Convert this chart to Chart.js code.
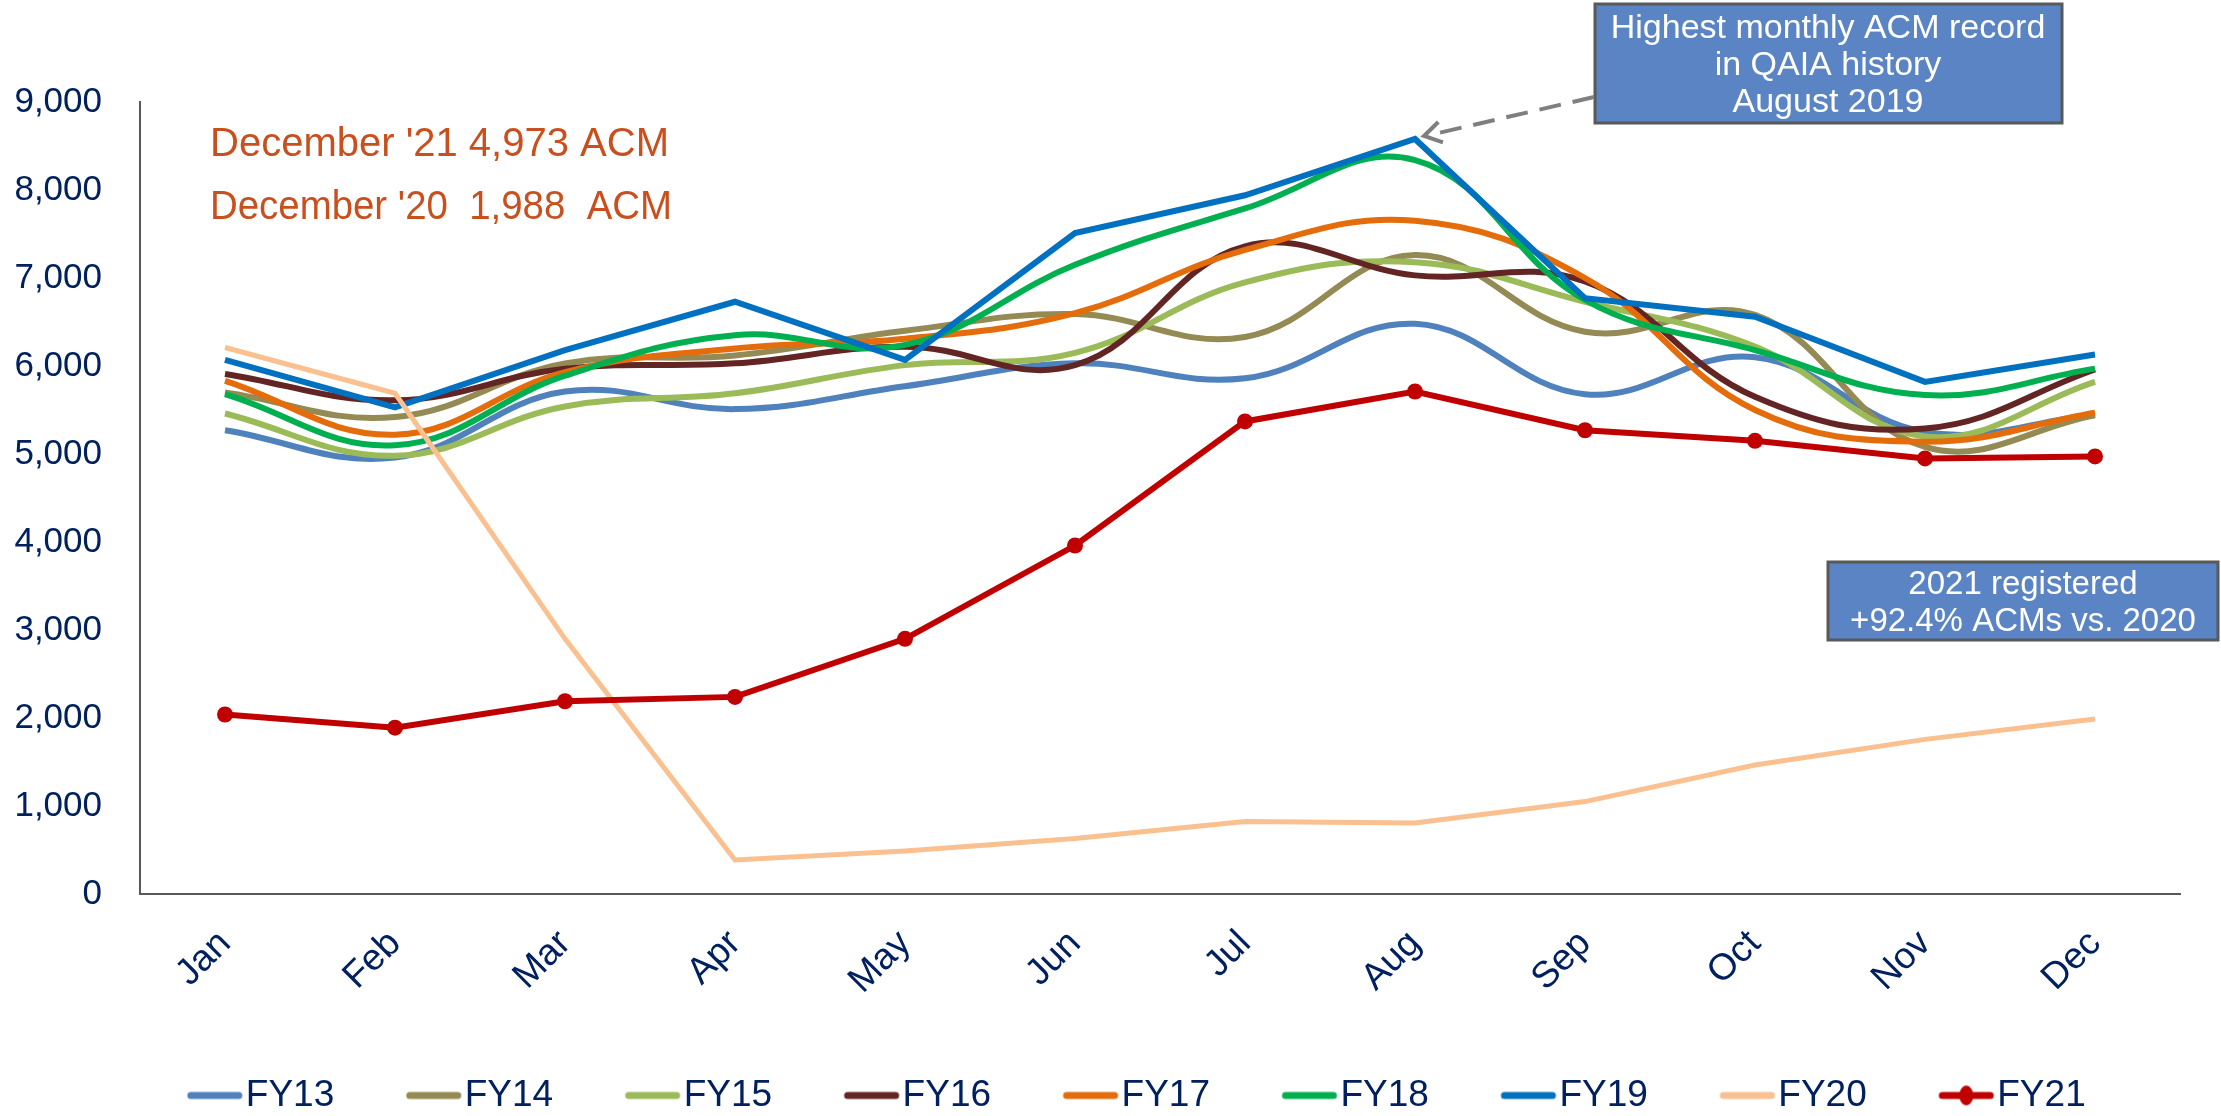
<!DOCTYPE html>
<html>
<head>
<meta charset="utf-8">
<script src="https://cdn.jsdelivr.net/npm/chart.js@4.4.1/dist/chart.umd.min.js"></script>
<style>
  html, body { margin: 0; padding: 0; background: #ffffff; }
  #wrap { width: 2221px; height: 1116px; }
</style>
</head>
<body>
<div id="wrap"><canvas id="acm" width="2221" height="1116"></canvas></div>
<script>
// monthly ACM counts
const months = ["Jan", "Feb", "Mar", "Apr", "May", "Jun", "Jul", "Aug", "Sep", "Oct", "Nov", "Dec"];
const fy13 = [5270, 4960, 5710, 5510, 5770, 6030, 5860, 6480, 5680, 6100, 5250, 5450];
const fy14 = [5700, 5420, 6030, 6120, 6400, 6590, 6330, 7260, 6390, 6580, 5080, 5440];
const fy15 = [5460, 4980, 5540, 5690, 6010, 6150, 6950, 7180, 6730, 6220, 5200, 5820];
const fy16 = [5910, 5610, 5970, 6030, 6220, 6010, 7360, 7030, 6960, 5650, 5290, 5960];
const fy17 = [5830, 5220, 5930, 6200, 6310, 6600, 7320, 7650, 7000, 5500, 5140, 5470];
const fy18 = [5680, 5100, 5890, 6350, 6240, 7150, 7790, 8340, 6750, 6180, 5670, 5970];
const fy19 = [6070, 5530, 6180, 6730, 6070, 7510, 7940, 8580, 6770, 6560, 5820, 6130];
const fy20 = [6210, 5690, 2900, 386, 490, 630, 823, 806, 1050, 1466, 1757, 1988];
const fy21 = [2040, 1890, 2190, 2240, 2900, 3960, 5370, 5710, 5270, 5150, 4950, 4973];

const seriesNames = ["FY13", "FY14", "FY15", "FY16", "FY17", "FY18", "FY19", "FY20", "FY21"];
const seriesData = [fy13, fy14, fy15, fy16, fy17, fy18, fy19, fy20, fy21];
const seriesColors = ["#4f81bd", "#948a54", "#9bbb59", "#632523", "#e46c0a", "#00b050", "#0070c0", "#fac090", "#c00000"];
const smoothed = [true, true, true, true, true, true, false, false, false];

const navy = "#002060";
const tickFont = "'Liberation Sans', Arial, sans-serif";

// legend swatch: short line (with a dot for FY21), pushed to the right of the box
function legendIcon(color, withDot) {
    var c = document.createElement("canvas");
    c.width = 150;
    c.height = 26;
    var g = c.getContext("2d");
    g.strokeStyle = color;
    g.lineWidth = 7;
    g.lineCap = "round";
    g.beginPath();
    g.moveTo(94, 13);
    g.lineTo(142, 13);
    g.stroke();
    if (withDot) {
        g.fillStyle = color;
        g.beginPath();
        g.ellipse(118, 13, 7, 10, 0, 0, Math.PI * 2);
        g.fill();
    }
    return c;
}

const datasets = seriesNames.map(function (name, i) {
    var isFy21 = name === "FY21";
    return {
        label: name,
        data: seriesData[i],
        borderColor: seriesColors[i],
        backgroundColor: seriesColors[i],
        borderWidth: name === "FY20" ? 5 : 6,
        tension: smoothed[i] ? 0.4 : 0,
        pointRadius: isFy21 ? 8 : 0,
        pointHoverRadius: isFy21 ? 8 : 0,
        pointBackgroundColor: seriesColors[i],
        pointBorderWidth: 0,
        fill: false,
        order: seriesNames.length - i
    };
});

// nudge the legend a little right and down
const legendShift = {
    id: "legendShift",
    afterLayout(chart) {
        var lg = chart.legend;
        lg.left += 11;
        lg.right += 11;
        lg.top += 8;
        lg.bottom += 8;
    }
};

const annotations = {
    id: "annotations",
    afterDraw(chart) {
        var ctx = chart.ctx;
        var xs = chart.scales.x;
        var ys = chart.scales.y;
        ctx.save();

        // orange notes top-left
        ctx.fillStyle = "#c9501e";
        ctx.font = "40px " + tickFont;
        ctx.textAlign = "left";
        ctx.textBaseline = "alphabetic";
        ctx.fillText("December '21 4,973 ACM", 210, 156, 462);
        ctx.fillText("December '20  1,988  ACM", 210, 219, 462);

        // record box
        ctx.fillStyle = "#5b84c4";
        ctx.fillRect(1595, 4, 467, 119);
        ctx.strokeStyle = "#595959";
        ctx.lineWidth = 3;
        ctx.strokeRect(1595, 4, 467, 119);
        ctx.fillStyle = "#ffffff";
        ctx.font = "34px " + tickFont;
        ctx.textAlign = "center";
        ctx.textBaseline = "middle";
        ctx.fillText("Highest monthly ACM record", 1828, 29);
        ctx.fillText("in QAIA history", 1828, 66);
        ctx.fillText("August 2019", 1828, 103);

        // dashed arrow to the August FY19 point
        var px = xs.getPixelForValue(7) + 9;
        var py = ys.getPixelForValue(fy19[7]) - 3;
        var sx = 1594, sy = 97;
        ctx.strokeStyle = "#7f7f7f";
        ctx.lineWidth = 4;
        ctx.setLineDash([22, 12]);
        ctx.beginPath();
        ctx.moveTo(sx, sy);
        ctx.lineTo(px + 6, py - 1);
        ctx.stroke();
        ctx.setLineDash([]);
        var ang = Math.atan2(sy - py, sx - px);
        ctx.beginPath();
        ctx.moveTo(px + 20 * Math.cos(ang + 0.55), py + 20 * Math.sin(ang + 0.55));
        ctx.lineTo(px, py);
        ctx.lineTo(px + 20 * Math.cos(ang - 0.55), py + 20 * Math.sin(ang - 0.55));
        ctx.stroke();

        // growth box
        ctx.fillStyle = "#5b84c4";
        ctx.fillRect(1828, 562, 390, 78);
        ctx.strokeStyle = "#595959";
        ctx.lineWidth = 3;
        ctx.strokeRect(1828, 562, 390, 78);
        ctx.fillStyle = "#ffffff";
        ctx.font = "33px " + tickFont;
        ctx.fillText("2021 registered", 2023, 585);
        ctx.fillText("+92.4% ACMs vs. 2020", 2023, 622);

        ctx.restore();
    }
};

new Chart(document.getElementById("acm"), {
    type: "line",
    data: {
        labels: months,
        datasets: datasets
    },
    options: {
        responsive: false,
        animation: false,
        events: [],
        layout: {
            padding: { top: 102, right: 41, bottom: 0, left: 0 }
        },
        scales: {
            x: {
                offset: true,
                grid: { display: false, drawTicks: false },
                border: { display: true, color: "#595959", width: 2 },
                ticks: {
                    color: navy,
                    font: { family: tickFont, size: 37 },
                    maxRotation: 45,
                    minRotation: 45,
                    padding: 28
                },
                afterFit(scale) {
                    scale.height = 1116 - 894 - scale.chart.legend.height;
                }
            },
            y: {
                min: 0,
                max: 9000,
                grid: { display: false, drawTicks: false },
                border: { display: true, color: "#595959", width: 2 },
                ticks: {
                    stepSize: 1000,
                    color: navy,
                    font: { family: tickFont, size: 35 },
                    padding: 38
                },
                afterFit(scale) {
                    scale.width = 140;
                }
            }
        },
        plugins: {
            tooltip: { enabled: false },
            legend: {
                position: "bottom",
                labels: {
                    color: navy,
                    font: { family: tickFont, size: 37 },
                    usePointStyle: true,
                    pointStyleWidth: 111,
                    padding: 1,
                    sort: function (a, b) { return a.datasetIndex - b.datasetIndex; },
                    generateLabels(chart) {
                        var items = Chart.defaults.plugins.legend.labels.generateLabels(chart);
                        items.forEach(function (item) {
                            var i = item.datasetIndex;
                            item.pointStyle = legendIcon(seriesColors[i], seriesNames[i] === "FY21");
                        });
                        return items;
                    }
                }
            }
        }
    },
    plugins: [legendShift, annotations]
});
</script>
</body>
</html>
